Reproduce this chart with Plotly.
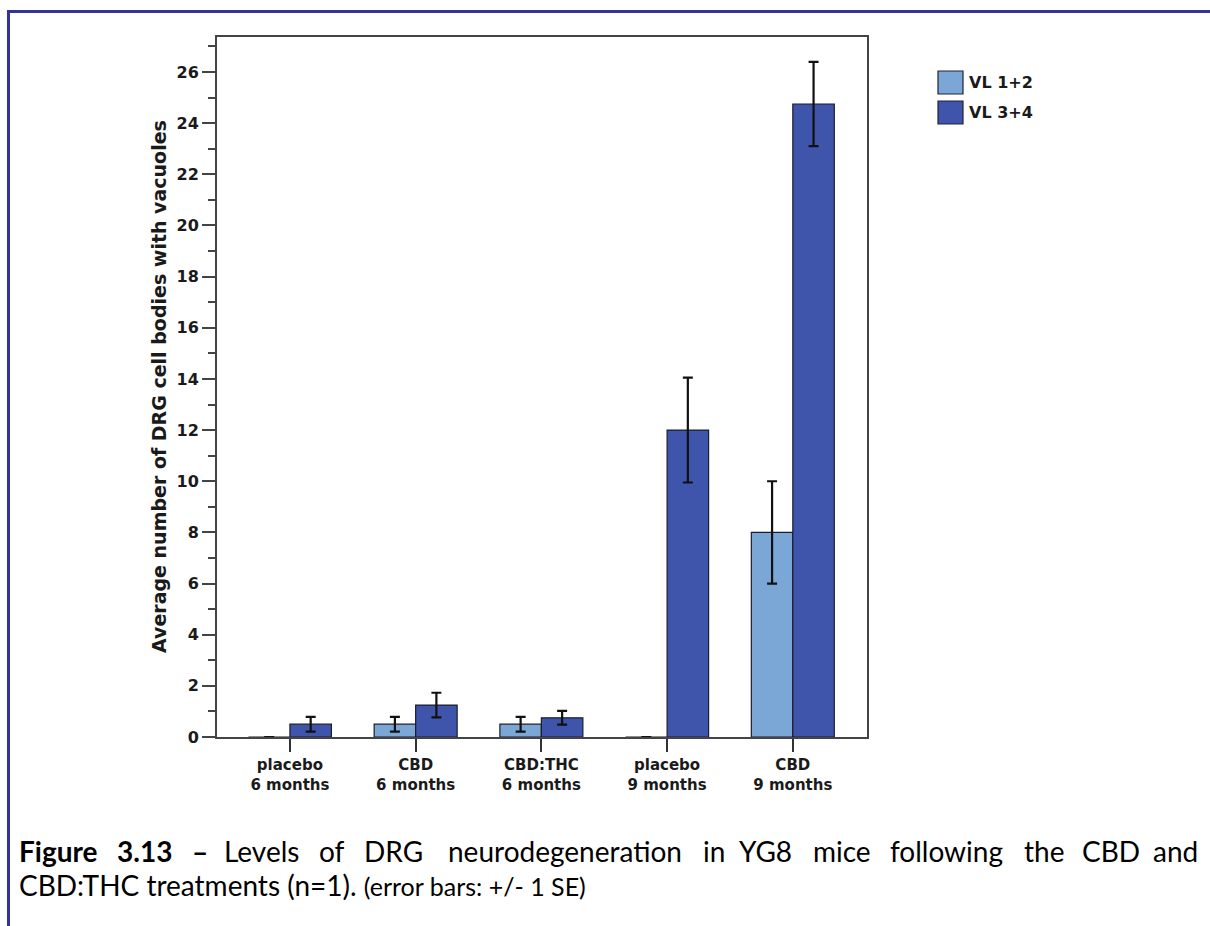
import plotly.graph_objects as go

# ---- data -------------------------------------------------------------
categories = ["placebo<br>6 months", "CBD<br>6 months", "CBD:THC<br>6 months",
              "placebo<br>9 months", "CBD<br>9 months"]
series_names = ["VL 1+2", "VL 3+4"]
vl12_mean = [0.0, 0.5, 0.5, 0.0, 8.0]
vl12_se = [0.0, 0.29, 0.29, 0.0, 2.0]
vl34_mean = [0.5, 1.25, 0.75, 12.0, 24.75]
vl34_se = [0.29, 0.48, 0.27, 2.05, 1.65]
y_ticks = list(range(0, 27, 2))

# ---- styling ----------------------------------------------------------
W, H = 1210, 926
LIGHT = "#7BA7D6"
DARK = "#3F55AB"
OUTLINE = "#1c1c2c"
AXIS = "#444444"
BORDER = "#333399"
LABEL_FONT = "DejaVu Sans"
CAPTION_FONT = "Lato"


def px(x):
    return x / W


def py(y):
    return 1 - y / H


fig = go.Figure()
for name, means, errs, color in [(series_names[0], vl12_mean, vl12_se, LIGHT),
                                 (series_names[1], vl34_mean, vl34_se, DARK)]:
    fig.add_trace(go.Bar(
        name=name, x=categories, y=means,
        marker=dict(color=color, line=dict(color=OUTLINE, width=1.2)),
        error_y=dict(type="data", array=errs, visible=True,
                     color="#111111", thickness=2.2, width=5),
        showlegend=False,
    ))

fig.update_layout(
    width=W, height=H,
    margin=dict(l=0, r=0, t=0, b=0),
    paper_bgcolor="white", plot_bgcolor="white",
    barmode="group", bargap=0.34, bargroupgap=0,
    showlegend=False,
    xaxis=dict(
        domain=[px(217), px(867)],
        type="category", range=[-0.58, 4.59],
        showline=True, linecolor=AXIS, linewidth=2, mirror=True,
        ticks="outside", ticklen=13, tickwidth=2, tickcolor="#333333",
        tickfont=dict(family=LABEL_FONT, size=15, color="#1a1a1a", weight="bold"),
        showgrid=False, zeroline=False, automargin=False,
    ),
    yaxis=dict(
        domain=[py(737), py(37)],
        range=[0, 27.37],
        tickvals=y_ticks,
        showline=True, linecolor=AXIS, linewidth=2, mirror=True,
        ticks="outside", ticklen=13, tickwidth=2, tickcolor=AXIS,
        minor=dict(dtick=1, ticks="outside", ticklen=7, tickwidth=2, tickcolor=AXIS),
        tickfont=dict(family=LABEL_FONT, size=16, color="#1a1a1a", weight="bold"),
        showgrid=False, zeroline=False, automargin=False,
    ),
)

annotations = []
shapes = []

# y-axis title
annotations.append(dict(
    text="Average number of DRG cell bodies with vacuoles",
    xref="paper", yref="paper", x=px(159), y=py(387),
    xanchor="center", yanchor="middle", textangle=-90, showarrow=False,
    font=dict(family=LABEL_FONT, size=19, color="#1a1a1a", weight="bold"),
))

# legend keys
for i, (name, color) in enumerate(zip(series_names, [LIGHT, DARK])):
    top = 71 + i * 30
    shapes.append(dict(type="rect", xref="paper", yref="paper",
                       x0=px(938), x1=px(963), y0=py(top + 23), y1=py(top),
                       fillcolor=color, line=dict(color="#222233", width=1.2)))
    annotations.append(dict(
        text=name, xref="paper", yref="paper", x=px(967), y=py(top + 11.5),
        xanchor="left", yanchor="middle", showarrow=False,
        font=dict(family=LABEL_FONT, size=16, color="#1a1a1a", weight="bold"),
    ))

# page frame
shapes.append(dict(type="line", xref="paper", yref="paper",
                   x0=px(7), x1=px(1210), y0=py(11.5), y1=py(11.5),
                   line=dict(color=BORDER, width=3)))
shapes.append(dict(type="line", xref="paper", yref="paper",
                   x0=px(8.5), x1=px(8.5), y0=py(10), y1=py(926),
                   line=dict(color=BORDER, width=3)))

# caption, first line set word by word to keep it justified
caption_words = [("Figure", 17, True), ("3.13", 115, True), ("\u2013", 190, True),
                 ("Levels", 222, False), ("of", 317, False), ("DRG", 362, False),
                 ("neurodegeneration", 446, False), ("in", 701, False),
                 ("YG8", 737, False), ("mice", 811, False), ("following", 888, False),
                 ("the", 1022, False), ("CBD", 1080, False), ("and", 1151, False)]
for word, left, bold in caption_words:
    annotations.append(dict(
        text=word, xref="paper", yref="paper", x=px(left), y=py(851),
        xanchor="left", yanchor="middle", showarrow=False,
        font=dict(family=CAPTION_FONT, size=28, color="#000000",
                  weight="bold" if bold else "normal"),
    ))
annotations.append(dict(
    text="CBD:THC treatments (n=1). <span style='font-size:25px'>(error bars: +/- 1 SE)</span>",
    xref="paper", yref="paper", x=px(17), y=py(885),
    xanchor="left", yanchor="middle", showarrow=False,
    font=dict(family=CAPTION_FONT, size=28, color="#000000"),
))

fig.update_layout(annotations=annotations, shapes=shapes)
fig.write_html("out.html")
